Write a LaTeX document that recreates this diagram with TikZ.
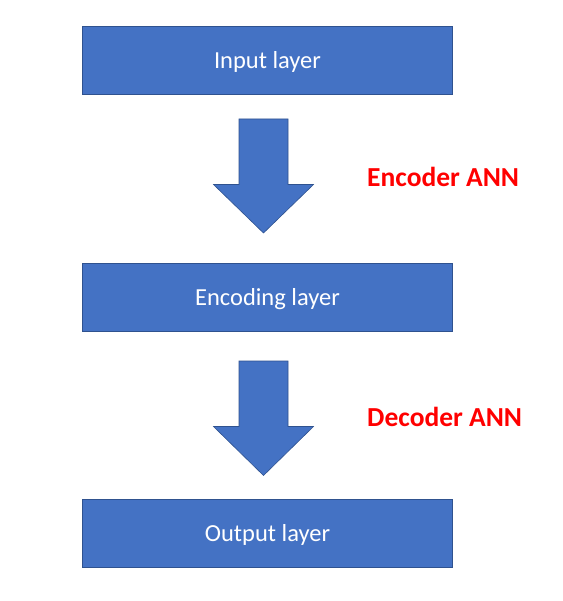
\documentclass[tikz,border=0pt]{standalone}
\usepackage{fontspec}
\setmainfont{Carlito}
\usepackage{tikz}
\definecolor{officeblue}{HTML}{4472C4}
\definecolor{officeedge}{HTML}{2F528F}
\def\blockarrow(#1:#2:#3:#4){\draw[arrowfill] ({#1-24.5},#2) -- ({#1+24.5},#2) -- ({#1+24.5},#3) -- ({#1+50},#3) -- (#1,#4) -- ({#1-50},#3) -- ({#1-24.5},#3) -- cycle;}

\begin{document}
\begin{tikzpicture}[x=1pt, y=-1pt,
		layer/.style={draw=officeedge, line width=0.8pt, fill=officeblue, text=white,
			minimum width=370pt, minimum height=68pt, inner sep=0pt,
			font=\fontsize{24.5}{28}\selectfont, text height=15.8pt, text depth=0pt},
		annlabel/.style={anchor=base west, inner sep=0pt, text=red,
			font=\bfseries\fontsize{27.5}{30}\selectfont},
		arrowfill/.style={draw=officeedge, line width=0.6pt, fill=officeblue}]
		%%%%% START %%%%%
		
		\useasboundingbox[fill=white] (0, 0) rectangle (562, 601);
		
		\node[layer] (input) at (267.5, 60.5) {Input layer};
		\node[layer] (encoding) at (267.5, 297.3) {Encoding layer};
		\node[layer] (output) at (267.5, 533.5) {Output layer};
		
		\blockarrow(263.5:119:184.5:233)
		\blockarrow(263.5:361:426.5:475.5)
		
		\node[annlabel] (encoder) at (367, 187) {Encoder ANN};
		\node[annlabel] (decoder) at (367, 426) {Decoder ANN};
		
		%%%%% END %%%%%
	\end{tikzpicture}
\end{document}
